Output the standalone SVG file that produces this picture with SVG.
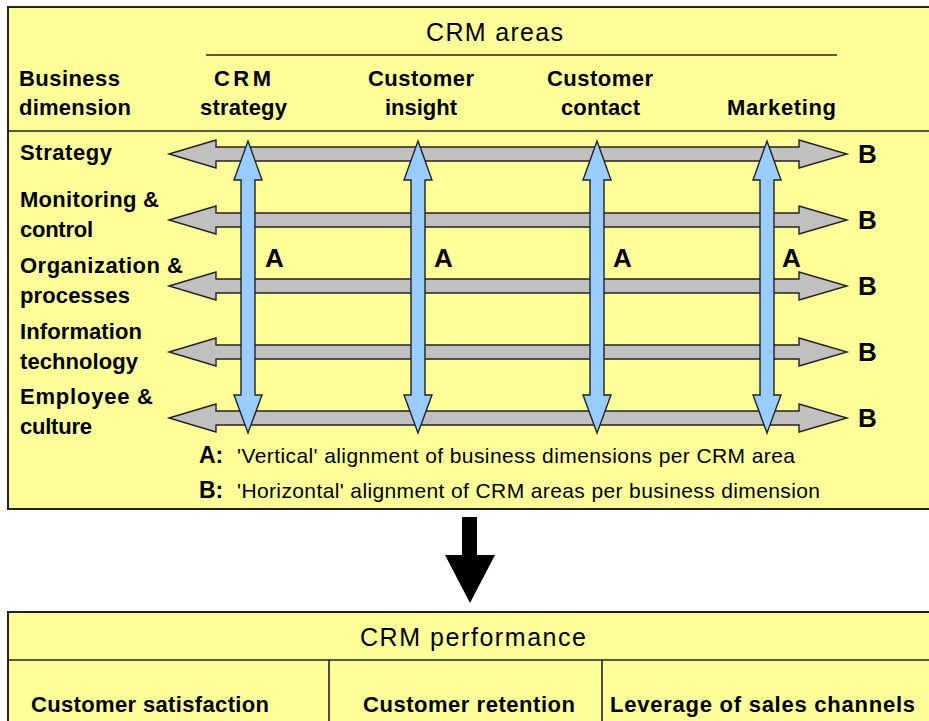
<svg xmlns="http://www.w3.org/2000/svg" width="929" height="721" viewBox="0 0 929 721">
<style>
.box{fill:#FFFF99;stroke:#222;stroke-width:2}
.ln{stroke:#222;stroke-width:1.6;fill:none}
.b{font-family:"Liberation Sans",Arial,sans-serif;font-weight:bold;font-size:22px;fill:#000}
.r{font-family:"Liberation Sans",Arial,sans-serif;font-size:25px;fill:#000}
.lg{font-family:"Liberation Sans",Arial,sans-serif;font-size:21px;fill:#000}
.big{font-family:"Liberation Sans",Arial,sans-serif;font-weight:bold;font-size:26px;fill:#000}
.h{fill:#C0C0C0;stroke:#222;stroke-width:1.4;stroke-linejoin:miter}
.v{fill:#99CCFF;stroke:#222;stroke-width:1.4;stroke-linejoin:miter}
</style>
<defs>
<path id="harrow" d="M169,0 L216,-14 L216,-7 L799,-7 L799,-14 L847,0 L799,14 L799,7 L216,7 L216,14 Z"/>
<path id="varrow" d="M0,141 L14,180 L7,180 L7,395 L14,395 L0,433 L-14,395 L-7,395 L-7,180 L-14,180 Z"/>
</defs>
<rect width="929" height="721" fill="#fff"/>

<g id="alignment-box">
<rect class="box" x="8" y="7" width="930" height="502"/>
<line class="ln" x1="206" y1="55" x2="837" y2="55"/>
<line class="ln" x1="8" y1="131" x2="929" y2="131"/>
<text class="r" x="426" y="41" textLength="137" lengthAdjust="spacing">CRM areas</text>
</g>

<g id="header-business-dimension">
<text class="b" x="19" y="86" textLength="101" lengthAdjust="spacing">Business</text>
<text class="b" x="19" y="115" textLength="112" lengthAdjust="spacing">dimension</text>
</g>
<g id="area-crm-strategy">
<text class="b" x="214" y="86" textLength="57" lengthAdjust="spacing">CRM</text>
<text class="b" x="200" y="115" textLength="87" lengthAdjust="spacing">strategy</text>
</g>
<g id="area-customer-insight">
<text class="b" x="368" y="86" textLength="106" lengthAdjust="spacing">Customer</text>
<text class="b" x="385" y="115" textLength="72" lengthAdjust="spacing">insight</text>
</g>
<g id="area-customer-contact">
<text class="b" x="547" y="86" textLength="106" lengthAdjust="spacing">Customer</text>
<text class="b" x="561" y="115" textLength="79" lengthAdjust="spacing">contact</text>
</g>
<g id="area-marketing">
<text class="b" x="727" y="115" textLength="109" lengthAdjust="spacing">Marketing</text>
</g>

<g id="dim-strategy">
<text class="b" x="20" y="160" textLength="92" lengthAdjust="spacing">Strategy</text>
</g>
<g id="dim-monitoring">
<text class="b" x="20" y="207" textLength="139" lengthAdjust="spacing">Monitoring &amp;</text>
<text class="b" x="20" y="237" textLength="73" lengthAdjust="spacing">control</text>
</g>
<g id="dim-organization">
<text class="b" x="20" y="273" textLength="163" lengthAdjust="spacing">Organization &amp;</text>
<text class="b" x="20" y="303" textLength="110" lengthAdjust="spacing">processes</text>
</g>
<g id="dim-it">
<text class="b" x="20" y="339" textLength="122" lengthAdjust="spacing">Information</text>
<text class="b" x="20" y="369" textLength="118" lengthAdjust="spacing">technology</text>
</g>
<g id="dim-employee">
<text class="b" x="20" y="404" textLength="133" lengthAdjust="spacing">Employee &amp;</text>
<text class="b" x="20" y="434" textLength="72" lengthAdjust="spacing">culture</text>
</g>

<g id="connectors">
<use href="#harrow" class="h" transform="translate(0,154)"/>
<use href="#harrow" class="h" transform="translate(0,220)"/>
<use href="#harrow" class="h" transform="translate(0,286)"/>
<use href="#harrow" class="h" transform="translate(0,352)"/>
<use href="#harrow" class="h" transform="translate(0,418)"/>
<use href="#varrow" class="v" transform="translate(248,0)"/>
<use href="#varrow" class="v" transform="translate(418,0)"/>
<use href="#varrow" class="v" transform="translate(597,0)"/>
<use href="#varrow" class="v" transform="translate(767,0)"/>
<path d="M462,517 L477,517 L477,555 L495,555 L470,603 L445,555 L462,555 Z" fill="#000"/>
</g>

<g id="labels-a">
<text class="big" x="265" y="267">A</text>
<text class="big" x="434" y="267">A</text>
<text class="big" x="613" y="267">A</text>
<text class="big" x="782" y="267">A</text>
</g>
<g id="labels-b">
<text class="big" x="858" y="163">B</text>
<text class="big" x="858" y="229">B</text>
<text class="big" x="858" y="295">B</text>
<text class="big" x="858" y="361">B</text>
<text class="big" x="858" y="427">B</text>
</g>

<g id="legend">
<text class="big" x="199" y="463" style="font-size:23px">A:</text>
<text class="lg" x="237" y="463" textLength="558" lengthAdjust="spacing">'Vertical' alignment of business dimensions per CRM area</text>
<text class="big" x="199" y="498" style="font-size:23px">B:</text>
<text class="lg" x="237" y="498" textLength="583" lengthAdjust="spacing">'Horizontal' alignment of CRM areas per business dimension</text>
</g>

<g id="performance-box">
<rect class="box" x="8" y="612" width="930" height="120"/>
<line class="ln" x1="8" y1="660" x2="929" y2="660"/>
<line class="ln" x1="329" y1="660" x2="329" y2="721"/>
<line class="ln" x1="602" y1="660" x2="602" y2="721"/>
<text class="r" x="360" y="646" textLength="226" lengthAdjust="spacing">CRM performance</text>
</g>
<g id="perf-satisfaction">
<text class="b" x="31" y="712" textLength="238" lengthAdjust="spacing">Customer satisfaction</text>
</g>
<g id="perf-retention">
<text class="b" x="363" y="712" textLength="212" lengthAdjust="spacing">Customer retention</text>
</g>
<g id="perf-leverage">
<text class="b" x="610" y="712" textLength="305" lengthAdjust="spacing">Leverage of sales channels</text>
</g>
</svg>
